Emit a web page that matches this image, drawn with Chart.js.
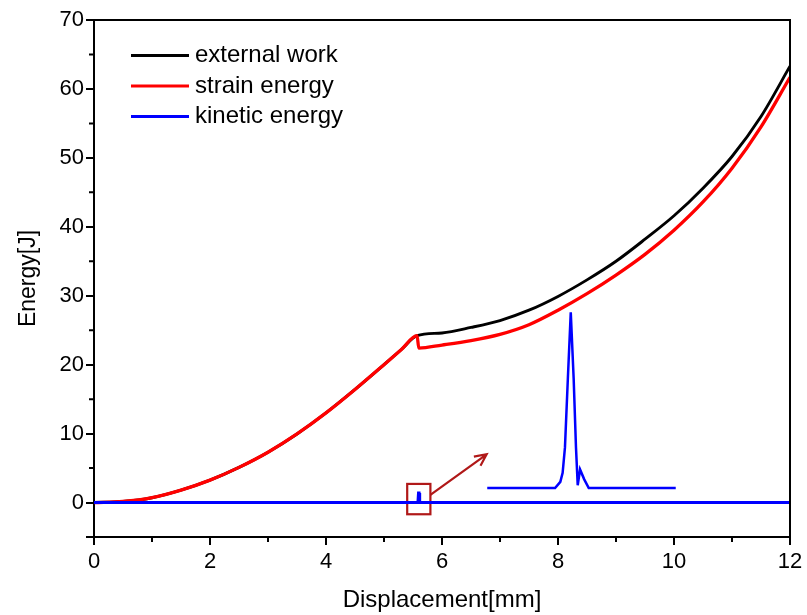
<!DOCTYPE html>
<html lang="en">
<head>
<meta charset="UTF-8">
<title>Energy vs Displacement</title>
<script src="https://cdn.jsdelivr.net/npm/chart.js"></script>
<style>
  html, body { margin: 0; padding: 0; background: #fff; }
  canvas { display: block; }
</style>
</head>
<body>
<canvas id="energyChart" width="807" height="615"></canvas>
<script>
// loading branch, external work and strain energy coincide up to the peak
const loadX = [0, 0.5, 1.0, 1.5, 2.0, 2.5, 3.0, 3.5, 4.0, 4.5, 5.0, 5.3, 5.57];
const loadE = [0, 0.15, 0.7, 1.8, 3.25, 5.1, 7.3, 9.95, 13.0, 16.4, 20.0, 22.2, 24.2];

// after the peak
const workX = [6.0, 6.5, 7.0, 7.5, 8.0, 8.5, 9.0, 9.5, 10.0, 10.5, 11.0, 11.5, 12.0];
const workE = [24.6, 25.4, 26.4, 27.9, 29.9, 32.3, 35.0, 38.2, 41.6, 45.6, 50.2, 56.0, 63.3];
const strainX = [5.6, 6.0, 6.5, 7.0, 7.5, 8.0, 8.5, 9.0, 9.5, 10.0, 10.5, 11.0, 11.5, 12.0];
const strainE = [22.4, 22.85, 23.5, 24.4, 25.8, 27.9, 30.3, 33.0, 36.0, 39.5, 43.6, 48.5, 54.5, 61.7];

// kinetic energy, flat with a tiny blip
const kineticX = [0, 5.585, 5.595, 5.605, 5.615, 12];
const kineticE = [0, 0, 1.4, 1.4, 0, 0];

// magnified blip (inset)
const insetX = [6.78, 7.95, 8.04, 8.08, 8.12, 8.17, 8.22, 8.27, 8.31, 8.34, 8.38, 8.45, 8.53, 10.03];
const insetE = [2.1, 2.1, 3.0, 4.3, 8.0, 18.0, 27.6, 18.0, 8.0, 2.5, 4.8, 3.4, 2.1, 2.1];

// zoom box and arrow, in data units
const boxX = [5.40, 5.80];
const boxY = [-1.7, 2.7];
const arrowX = [5.80, 6.77];
const arrowY = [1.1, 7.0];

const xMinor = [1, 3, 5, 7, 9, 11];
const yMinor = [5, 15, 25, 35, 45, 55, 65];

const toPts = (xs, ys) => xs.map((v, i) => ({x: v, y: ys[i]}));

Chart.defaults.font.family = '"Liberation Sans", Arial, sans-serif';
Chart.defaults.color = '#000';

const noteRed = '#b01818';

const extras = {
  id: 'extras',
  beforeDatasetsDraw(chart) {
    const {ctx, scales: {x, y}} = chart;
    ctx.save();
    ctx.strokeStyle = noteRed;
    ctx.lineWidth = 2.2;
    const x0 = x.getPixelForValue(boxX[0]), x1 = x.getPixelForValue(boxX[1]);
    const y0 = y.getPixelForValue(boxY[1]), y1 = y.getPixelForValue(boxY[0]);
    ctx.strokeRect(x0, y0, x1 - x0, y1 - y0);

    const ax = x.getPixelForValue(arrowX[0]), ay = y.getPixelForValue(arrowY[0]);
    const bx = x.getPixelForValue(arrowX[1]), by = y.getPixelForValue(arrowY[1]);
    const ang = Math.atan2(by - ay, bx - ax);
    ctx.beginPath();
    ctx.moveTo(ax, ay);
    ctx.lineTo(bx, by);
    ctx.moveTo(bx - 13 * Math.cos(ang - 0.45), by - 13 * Math.sin(ang - 0.45));
    ctx.lineTo(bx, by);
    ctx.lineTo(bx - 13 * Math.cos(ang + 0.45), by - 13 * Math.sin(ang + 0.45));
    ctx.stroke();
    ctx.restore();
  },
  afterDraw(chart) {
    const {ctx, chartArea: a, scales: {x, y}} = chart;
    ctx.save();
    ctx.strokeStyle = '#000';
    ctx.lineWidth = 2;
    // top and right edges of the frame
    ctx.beginPath();
    ctx.moveTo(a.left, a.top);
    ctx.lineTo(a.right, a.top);
    ctx.lineTo(a.right, a.bottom);
    ctx.stroke();

    // minor ticks
    ctx.beginPath();
    xMinor.forEach(v => {
      const px = x.getPixelForValue(v);
      ctx.moveTo(px, a.bottom);
      ctx.lineTo(px, a.bottom + 5);
    });
    yMinor.forEach(v => {
      const py = y.getPixelForValue(v);
      ctx.moveTo(a.left, py);
      ctx.lineTo(a.left - 5, py);
    });
    ctx.stroke();

    // legend inside the plot
    ctx.font = '24px "Liberation Sans", Arial, sans-serif';
    ctx.textBaseline = 'middle';
    ctx.fillStyle = '#000';
    [2, 1, 0].forEach((di, i) => {
      const ds = chart.data.datasets[di];
      const ly = a.top + 35.5 + i * 30.5;
      ctx.strokeStyle = ds.borderColor;
      ctx.lineWidth = 3;
      ctx.beginPath();
      ctx.moveTo(a.left + 37, ly);
      ctx.lineTo(a.left + 95, ly);
      ctx.stroke();
      ctx.fillText(ds.label, a.left + 101, ly);
    });
    ctx.restore();
  }
};

new Chart(document.getElementById('energyChart'), {
  type: 'line',
  data: {
    datasets: [
      {
        label: 'kinetic energy',
        data: toPts(kineticX, kineticE),
        borderColor: '#0000ff',
        borderWidth: 3,
        tension: 0
      },
      {
        label: 'strain energy',
        data: toPts(loadX, loadE).concat(toPts(strainX, strainE)),
        borderColor: '#ff0000',
        borderWidth: 3.3,
        cubicInterpolationMode: 'monotone'
      },
      {
        label: 'external work',
        data: toPts(loadX, loadE).concat(toPts(workX, workE)),
        borderColor: '#000000',
        borderWidth: 2.9,
        cubicInterpolationMode: 'monotone'
      },
      {
        label: 'inset',
        data: toPts(insetX, insetE),
        borderColor: '#0000ff',
        borderWidth: 2.5,
        tension: 0
      }
    ]
  },
  options: {
    responsive: false,
    animation: false,
    devicePixelRatio: 1,
    elements: { point: { radius: 0 }, line: { fill: false } },
    layout: { padding: { top: 20, right: 17, left: 0, bottom: 0 } },
    plugins: { legend: { display: false }, tooltip: { enabled: false } },
    scales: {
      x: {
        type: 'linear',
        min: 0,
        max: 12,
        afterFit(scale) { scale.height = 78; },
        ticks: { stepSize: 2, font: { size: 22 }, padding: 4, maxRotation: 0 },
        grid: { drawOnChartArea: false, color: '#000', lineWidth: 2, tickLength: 8 },
        border: { color: '#000', width: 2 },
        title: { display: true, text: 'Displacement[mm]', font: { size: 24 }, padding: { top: 4, bottom: 0 } }
      },
      y: {
        min: -5,
        max: 70,
        afterFit(scale) { scale.width = 94; },
        ticks: {
          stepSize: 10,
          font: { size: 22 },
          padding: 2,
          callback: v => (v < 0 ? '' : v)
        },
        grid: { drawOnChartArea: false, color: '#000', lineWidth: 2, tickLength: 8 },
        border: { color: '#000', width: 2 },
        title: { display: true, text: 'Energy[J]', font: { size: 23 }, padding: { top: 15, bottom: 0 } }
      }
    }
  },
  plugins: [extras]
});
</script>
</body>
</html>
